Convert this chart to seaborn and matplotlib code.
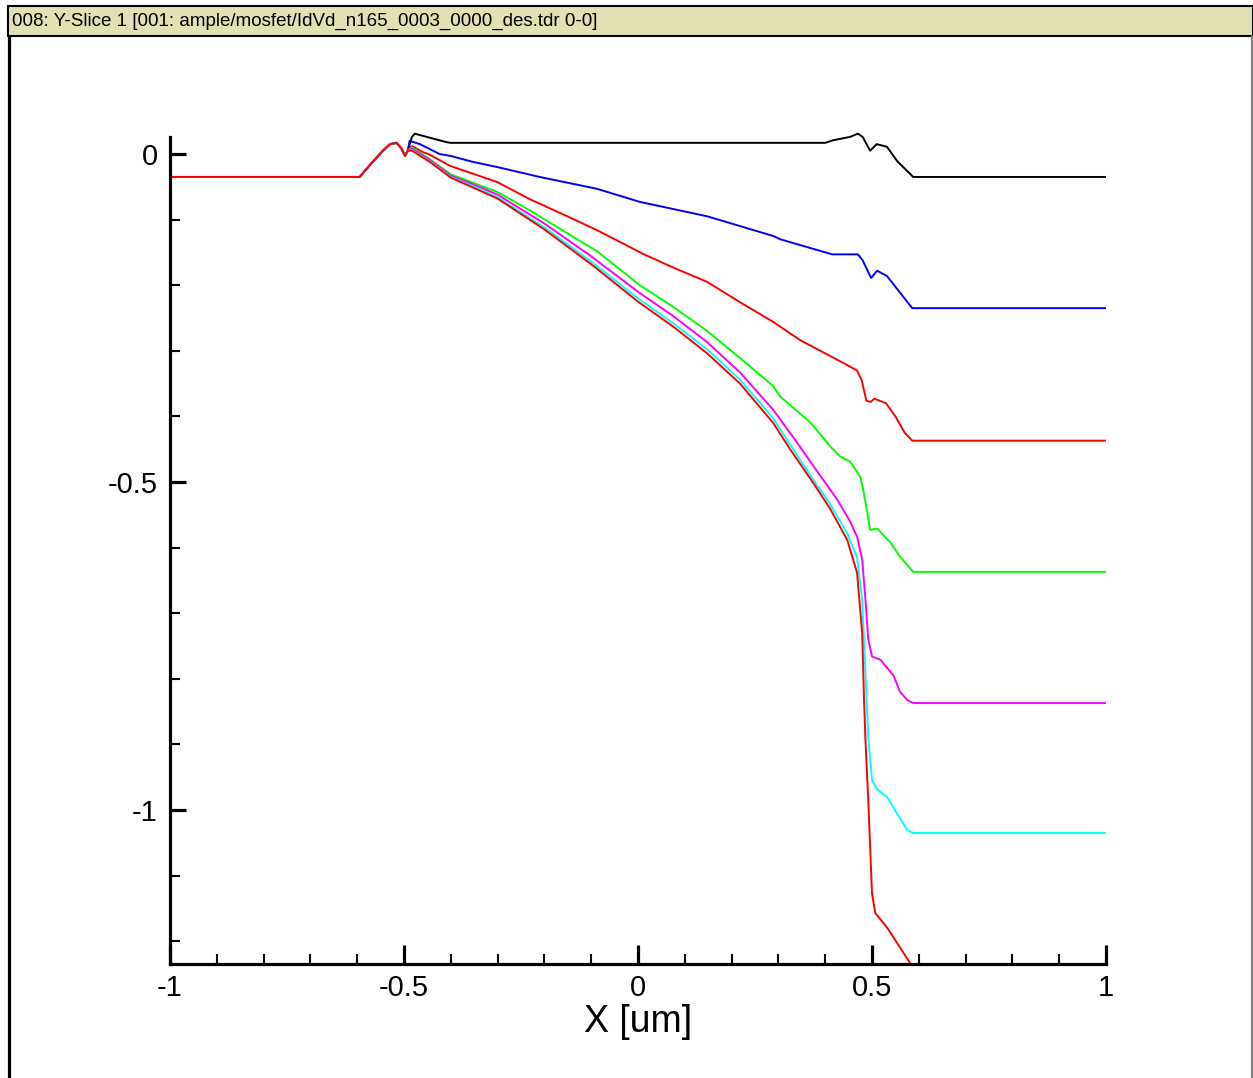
import matplotlib
matplotlib.use("Agg")
import matplotlib.pyplot as plt
import seaborn as sns
import pandas as pd
from matplotlib.patches import Rectangle
from matplotlib.lines import Line2D
from matplotlib.ticker import FixedLocator, MultipleLocator, FixedFormatter

# ---------------- data ----------------
title_text = "008: Y-Slice 1 [001: ample/mosfet/IdVd_n165_0003_0000_des.tdr 0-0]"
x_label = "X [um]"
x_ticks = [-1, -0.5, 0, 0.5, 1]
x_tick_labels = ["-1", "-0.5", "0", "0.5", "1"]
y_ticks = [-1, -0.5, 0]
y_tick_labels = ["-1", "-0.5", "0"]

# shared left-hand part of every curve
common_x = [-1.0, -0.595, -0.567, -0.545, -0.53, -0.516, -0.505, -0.498, -0.492]
common_y = [-0.035, -0.035, -0.012, 0.005, 0.015, 0.017, 0.008, -0.003, 0.005]

black_x = [-0.483, -0.477, -0.451, -0.409, -0.40, 0.40, 0.417, 0.453, 0.47, 0.48,
           0.496, 0.51, 0.532, 0.554, 0.588, 1.0]
black_y = [0.026, 0.031, 0.026, 0.018, 0.017, 0.017, 0.021, 0.026, 0.031, 0.026,
           0.005, 0.015, 0.011, -0.011, -0.035, -0.035]

blue_x = [-0.488, -0.466, -0.424, -0.40, -0.353, -0.30, -0.21, -0.088, 0.004, 0.148,
          0.289, 0.304, 0.415, 0.47, 0.48, 0.49, 0.498, 0.511, 0.532, 0.554, 0.586, 1.0]
blue_y = [0.02, 0.015, 0.0, -0.003, -0.012, -0.02, -0.035, -0.053, -0.073, -0.095,
          -0.125, -0.13, -0.153, -0.153, -0.162, -0.177, -0.189, -0.178, -0.186, -0.206,
          -0.235, -0.235]

red1_x = [-0.483, -0.46, -0.445, -0.402, -0.30, -0.231, -0.16, -0.088, -0.017, 0.01,
          0.075, 0.148, 0.218, 0.289, 0.347, 0.432, 0.45, 0.468, 0.478, 0.488, 0.497,
          0.505, 0.53, 0.55, 0.57, 0.586, 1.0]
red1_y = [0.012, 0.003, -0.001, -0.018, -0.043, -0.069, -0.092, -0.116, -0.142, -0.152,
          -0.173, -0.195, -0.226, -0.256, -0.284, -0.316, -0.323, -0.33, -0.345, -0.376,
          -0.378, -0.373, -0.38, -0.40, -0.425, -0.437, -0.437]

green_x = [-0.483, -0.445, -0.40, -0.30, -0.231, -0.16, -0.088, 0.004, 0.075, 0.148,
           0.218, 0.289, 0.304, 0.368, 0.411, 0.432, 0.453, 0.475, 0.481, 0.49, 0.496,
           0.511, 0.539, 0.56, 0.588, 1.0]
green_y = [0.01, -0.008, -0.031, -0.058, -0.086, -0.117, -0.148, -0.2, -0.233, -0.27,
           -0.311, -0.354, -0.37, -0.409, -0.446, -0.461, -0.469, -0.492, -0.511, -0.547,
           -0.573, -0.571, -0.592, -0.614, -0.637, -0.637]

magenta_x = [-0.483, -0.445, -0.40, -0.35, -0.30, -0.20, -0.10, 0.0, 0.075, 0.148,
             0.218, 0.289, 0.34, 0.389, 0.426, 0.453, 0.468, 0.479, 0.486, 0.492, 0.5,
             0.518, 0.546, 0.56, 0.575, 0.588, 1.0]
magenta_y = [0.008, -0.009, -0.033, -0.047, -0.062, -0.106, -0.156, -0.210, -0.247, -0.287,
             -0.333, -0.39, -0.44, -0.49, -0.527, -0.56, -0.583, -0.618, -0.679, -0.74,
             -0.766, -0.771, -0.795, -0.82, -0.832, -0.837, -0.837]

cyan_x = [-0.483, -0.445, -0.40, -0.35, -0.30, -0.20, -0.10, 0.0, 0.075, 0.148, 0.218,
          0.289, 0.325, 0.374, 0.41, 0.447, 0.468, 0.479, 0.486, 0.492, 0.50, 0.51,
          0.532, 0.553, 0.575, 0.588, 1.0]
cyan_y = [0.006, -0.011, -0.035, -0.05, -0.066, -0.112, -0.164, -0.220, -0.258, -0.298,
          -0.344, -0.403, -0.443, -0.496, -0.533, -0.578, -0.615, -0.679, -0.79, -0.889,
          -0.954, -0.968, -0.98, -1.005, -1.03, -1.035, -1.035]

red2_x = [-0.483, -0.445, -0.40, -0.35, -0.30, -0.20, -0.10, 0.0, 0.075, 0.148, 0.218,
          0.289, 0.325, 0.374, 0.41, 0.447, 0.468, 0.479, 0.483, 0.486, 0.492, 0.496,
          0.50, 0.507, 0.533, 0.582, 0.62, 1.0]
red2_y = [0.005, -0.012, -0.036, -0.052, -0.068, -0.115, -0.168, -0.225, -0.263, -0.304,
          -0.35, -0.41, -0.45, -0.501, -0.54, -0.588, -0.638, -0.73, -0.832, -0.893,
          -0.985, -1.056, -1.127, -1.157, -1.18, -1.234, -1.28, -1.28]

curve_names = ["c1", "c2", "c3", "c4", "c5", "c6", "c7"]
curve_colors = ["#000000", "#0000ff", "#ff0000", "#00ff00", "#ff00ff", "#00ffff", "#ff0000"]
curve_x = [black_x, blue_x, red1_x, green_x, magenta_x, cyan_x, red2_x]
curve_y = [black_y, blue_y, red1_y, green_y, magenta_y, cyan_y, red2_y]

rows = []
for name, xs, ys in zip(curve_names, curve_x, curve_y):
    for xv, yv in zip(common_x + xs, common_y + ys):
        rows.append((name, xv, yv))
df = pd.DataFrame(rows, columns=["curve", "x", "y"])

# ---------------- drawing ----------------
sns.set_style("white")
plt.rcParams["font.family"] = ["Liberation Sans Narrow", "Liberation Sans", "DejaVu Sans"]
plt.rcParams["axes.unicode_minus"] = False

W, H = 1253, 1078
fig = plt.figure(figsize=(W / 100, H / 100), dpi=100)
fig.patch.set_facecolor("white")

y_bottom, y_top, y_spine_top = -1.235, 0.045, 0.026
y0_px, px_per_unit = 154.0, 656.0
ax_l, ax_r = 170, 1106
ax_b = y0_px - y_bottom * px_per_unit
ax_t = y0_px - y_top * px_per_unit
ax = fig.add_axes([ax_l / W, 1 - ax_b / H, (ax_r - ax_l) / W, (ax_b - ax_t) / H])
ax.set_facecolor("white")

sns.lineplot(data=df, x="x", y="y", hue="curve", hue_order=curve_names,
             palette=dict(zip(curve_names, curve_colors)), sort=False,
             estimator=None, legend=False, linewidth=1.4, ax=ax)

ax.set_xlim(-1, 1)
ax.set_ylim(y_bottom, y_top)

for s in ["top", "right"]:
    ax.spines[s].set_visible(False)
for s in ["left", "bottom"]:
    ax.spines[s].set_linewidth(2.3)
    ax.spines[s].set_color("black")
ax.spines["left"].set_bounds(y_bottom, y_spine_top)

ax.xaxis.set_major_locator(FixedLocator(x_ticks))
ax.xaxis.set_major_formatter(FixedFormatter(x_tick_labels))
ax.xaxis.set_minor_locator(MultipleLocator(0.1))
ax.yaxis.set_major_locator(FixedLocator(y_ticks))
ax.yaxis.set_major_formatter(FixedFormatter(y_tick_labels))
ax.yaxis.set_minor_locator(FixedLocator([-1.2, -1.1, -0.9, -0.8, -0.7, -0.6,
                                         -0.4, -0.3, -0.2, -0.1]))

ax.tick_params(which="both", bottom=True, left=True, top=False, right=False)
ax.tick_params(axis="x", which="major", direction="in", length=14, width=2.3,
               labelsize=21, pad=7, colors="black")
ax.tick_params(axis="x", which="minor", direction="in", length=7.5, width=1.5, colors="black")
ax.tick_params(axis="y", which="major", direction="in", length=11.5, width=2.3,
               labelsize=21, pad=9, colors="black")
ax.tick_params(axis="y", which="minor", direction="in", length=7, width=1.5, colors="black")

ax.set_ylabel("")
ax.set_xlabel(x_label, fontsize=27, color="black")
ax.xaxis.set_label_coords(0.5, (ax_b - 1004) / (ax_b - ax_t))
ax.xaxis.label.set_va("top")

# window frame: title bar and borders
fig.add_artist(Rectangle((8 / W, 1 - 36 / H), (W - 8) / W, 30 / H, transform=fig.transFigure,
                         facecolor="#e1e1b4", edgecolor="black", linewidth=1.5))
fig.text(12 / W, 1 - 21 / H, title_text, fontsize=13.5, va="center", ha="left", color="black")
fig.add_artist(Line2D([8.5 / W, 8.5 / W], [0, 1 - 36 / H], transform=fig.transFigure,
                      color="black", linewidth=2.3))
fig.add_artist(Line2D([1251.5 / W, 1251.5 / W], [0, 1 - 36 / H], transform=fig.transFigure,
                      color="#808080", linewidth=1.5))

fig.savefig("out.png", dpi=100, facecolor="white")
